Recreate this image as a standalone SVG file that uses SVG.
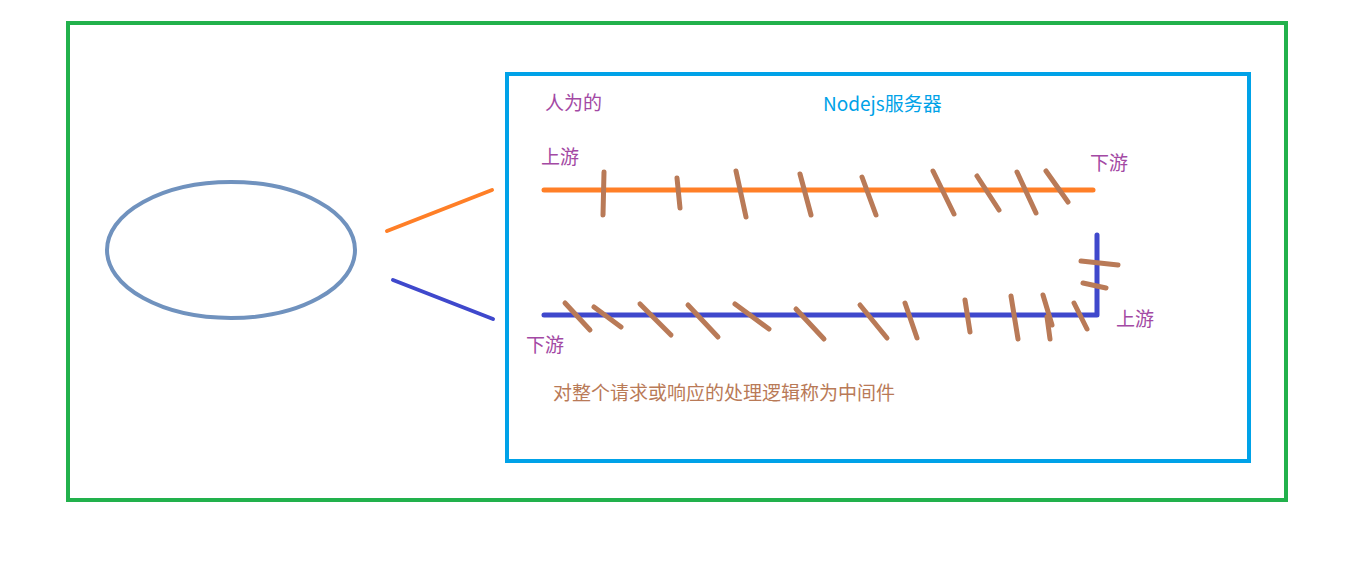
<svg xmlns="http://www.w3.org/2000/svg" width="1348" height="568" viewBox="0 0 1348 568">
<style>
text{font-family:"Microsoft YaHei","Noto Sans CJK SC","Noto Sans",sans-serif;font-size:19px}
.p{fill:#a349a4}
.tick{stroke:#b97a57;stroke-width:5;stroke-linecap:round;fill:none}
</style>
<rect width="1348" height="568" fill="#fff"/>
<g id="outer"><rect x="68" y="23" width="1218" height="477" fill="none" stroke="#22b14c" stroke-width="4"/></g>
<g id="server">
<rect x="507" y="74" width="742" height="387" fill="none" stroke="#00a2e8" stroke-width="4"/>
<text x="823" y="111" fill="#00a2e8">Nodejs服务器</text>
</g>
<g id="client"><ellipse cx="231" cy="250" rx="124" ry="68" fill="none" stroke="#7092be" stroke-width="4"/></g>
<g id="connectors" stroke-linecap="round" fill="none">
<line x1="387" y1="231" x2="492" y2="190" stroke="#ff7f27" stroke-width="4"/>
<line x1="393" y1="280" x2="493" y2="319" stroke="#3f48cc" stroke-width="4"/>
</g>
<g id="request-line">
<line x1="544" y1="190" x2="1093" y2="190" stroke="#ff7f27" stroke-width="5" stroke-linecap="round"/>
<g class="tick">
<line x1="604" y1="172" x2="603" y2="215"/>
<line x1="677" y1="178" x2="680" y2="208"/>
<line x1="736" y1="171" x2="746" y2="217"/>
<line x1="800" y1="174" x2="811" y2="215"/>
<line x1="862" y1="177" x2="876" y2="215"/>
<line x1="933" y1="171" x2="954" y2="214"/>
<line x1="977" y1="176" x2="999" y2="210"/>
<line x1="1017" y1="172" x2="1036" y2="213"/>
<line x1="1046" y1="171" x2="1068" y2="202"/>
</g>
</g>
<g id="response-line">
<polyline points="544,315 1097,315 1097,235" fill="none" stroke="#3f48cc" stroke-width="5" stroke-linecap="round" stroke-linejoin="round"/>
<g class="tick">
<line x1="565" y1="303" x2="590" y2="330"/>
<line x1="594" y1="307" x2="621" y2="327"/>
<line x1="640" y1="304" x2="671" y2="335"/>
<line x1="688" y1="305" x2="718" y2="337"/>
<line x1="735" y1="304" x2="769" y2="329"/>
<line x1="796" y1="309" x2="824" y2="339"/>
<line x1="860" y1="305" x2="887" y2="338"/>
<line x1="905" y1="303" x2="917" y2="338"/>
<line x1="965" y1="300" x2="970" y2="332"/>
<line x1="1011" y1="296" x2="1018" y2="339"/>
<line x1="1043" y1="295" x2="1052" y2="325"/>
<line x1="1047" y1="317" x2="1050" y2="339"/>
<line x1="1074" y1="303" x2="1087" y2="329"/>
<line x1="1081" y1="261" x2="1118" y2="265"/>
<line x1="1083" y1="283" x2="1106" y2="288"/>
</g>
</g>
<g id="labels">
<text class="p" x="545" y="110">人为的</text>
<text class="p" x="541" y="164">上游</text>
<text class="p" x="1090" y="170">下游</text>
<text class="p" x="526" y="352">下游</text>
<text class="p" x="1116" y="326">上游</text>
<text x="553" y="400" fill="#b97a57">对整个请求或响应的处理逻辑称为中间件</text>
</g>
</svg>
